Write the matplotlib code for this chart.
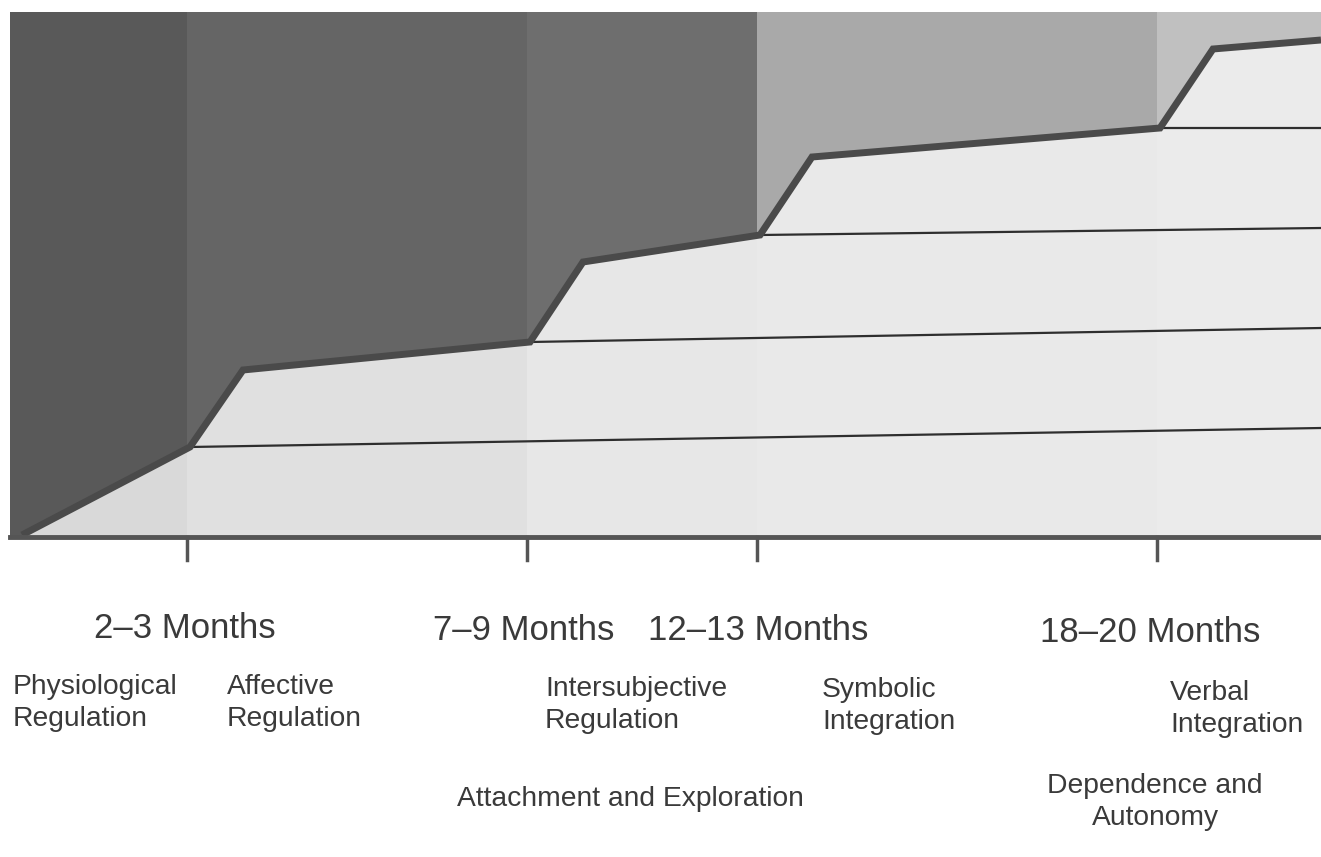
import numpy as np
import matplotlib.pyplot as plt
from matplotlib.patches import Polygon

# ---------------- data (pixel-like units, y down) ----------------
# thick staircase boundary
edge_x = [22, 190, 243, 530, 583, 760, 812, 1160, 1213, 1321]
edge_y = [535, 447, 370, 342, 262, 235, 157, 128, 49, 40]

# thin level lines: start x, start y, end y (all end at right edge)
level_x0 = [190, 530, 760, 1160]
level_y0 = [447, 342, 235, 128]
level_y1 = [428, 328, 228, 128]

# age bands (tick positions) and shading
tick_x = [187, 527, 757, 1157]
band_edges = [10, 187, 527, 757, 1157, 1321]
dark_cols = ["#595959", "#656565", "#6e6e6e", "#a9a9a9", "#c0c0c0"]
light_cols = ["#d9d9d9", "#e0e0e0", "#e7e7e7", "#e9e9e9", "#ebebeb"]

month_labels = ["2–3 Months", "7–9 Months", "12–13 Months", "18–20 Months"]
month_x = [185, 433, 648, 1040]
month_y = [628, 630, 630, 633]
month_ha = ["center", "left", "left", "left"]

stage_labels = ["Physiological\nRegulation", "Affective\nRegulation",
                "Intersubjective\nRegulation", "Symbolic\nIntegration",
                "Verbal\nIntegration"]
stage_x = [13, 227, 545, 822, 1170]
stage_y = [703, 703, 705, 706, 709]

theme_labels = ["Attachment and Exploration", "Dependence and\nAutonomy"]
theme_x = [630, 1155]
theme_y = [799, 802]

TOP = 12
BASE = 537

plt.rcParams["font.family"] = ["Liberation Sans", "DejaVu Sans"]

fig = plt.figure(figsize=(13.21, 8.57), dpi=100)
ax = fig.add_axes([0, 0, 1, 1])
ax.set_xlim(0, 1321)
ax.set_ylim(857, 0)
ax.axis("off")

# dark background bands
for i in range(len(band_edges) - 1):
    ax.fill_between([band_edges[i], band_edges[i + 1]], TOP, BASE,
                    color=dark_cols[i], lw=0, zorder=1)

# light area under the boundary, banded too
poly = Polygon(list(zip(edge_x, edge_y)) + [(1321, BASE), (22, BASE)],
               closed=True, facecolor="none", edgecolor="none")
ax.add_patch(poly)
for i in range(len(band_edges) - 1):
    f = ax.fill_between([band_edges[i], band_edges[i + 1]], TOP, BASE,
                        color=light_cols[i], lw=0, zorder=2)
    f.set_clip_path(poly)

# thin level lines
for x0, y0, y1 in zip(level_x0, level_y0, level_y1):
    ax.plot([x0, 1321], [y0, y1], color="#2e2e2e", lw=1.6, zorder=3)

# thick boundary
ax.plot(edge_x, edge_y, color="#4a4a4a", lw=5, solid_joinstyle="miter",
        solid_capstyle="butt", zorder=4)

# baseline and ticks
ax.plot([10, 1321], [BASE, BASE], color="#555555", lw=3.5, zorder=4)
for tx in tick_x:
    ax.plot([tx, tx], [BASE, 560], color="#555555", lw=2.5, zorder=4)

# labels
for t, x, y, ha in zip(month_labels, month_x, month_y, month_ha):
    ax.text(x, y, t, fontsize=25, ha=ha, va="center", color="#3a3a3a")
for t, x, y in zip(stage_labels, stage_x, stage_y):
    ax.text(x, y, t, fontsize=20.3, ha="left", va="center", color="#3a3a3a",
            linespacing=1.3)
for t, x, y in zip(theme_labels, theme_x, theme_y):
    ax.text(x, y, t, fontsize=20.3, ha="center", va="center", color="#3a3a3a",
            linespacing=1.3)

fig.savefig("out.png", dpi=100, facecolor="white")
